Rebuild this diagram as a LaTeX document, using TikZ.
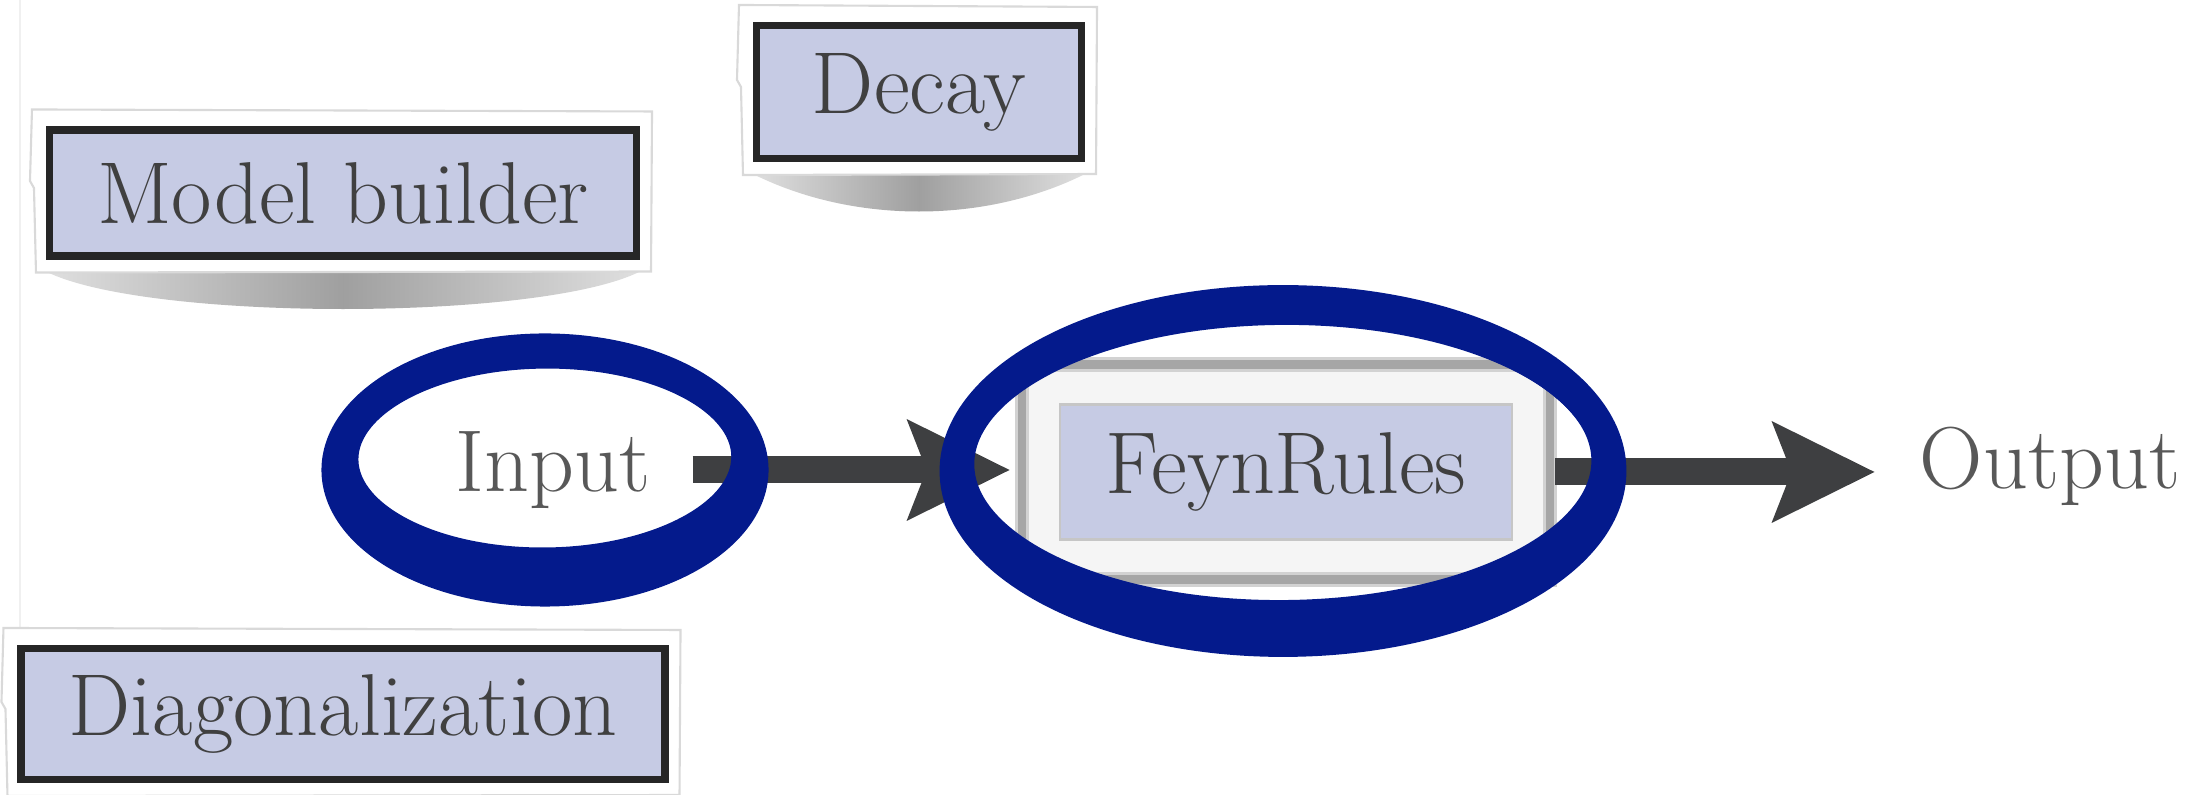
\documentclass[tikz,border=0pt]{standalone}
\usepackage{xcolor}
\usepackage{tikz}
\usetikzlibrary{arrows.meta, positioning, calc, fit, backgrounds}

\definecolor{lavender}{RGB}{198,203,228}
\definecolor{inkblue}{RGB}{4,26,140}
\definecolor{arrowgray}{RGB}{62,63,65}
\definecolor{textgray}{RGB}{64,64,64}
\definecolor{plaingray}{RGB}{88,88,88}

\begin{document}
\begin{tikzpicture}[
    tag/.style={rectangle, draw=black!85, line width=2pt, fill=lavender, text=textgray, font=\fontsize{25}{30}\selectfont, inner sep=0pt},
    plain/.style={text=plaingray, font=\fontsize{25}{30}\selectfont},
    core/.style={rectangle, draw=gray!45, line width=0.6pt, fill=lavender, text=textgray, font=\fontsize{25}{30}\selectfont},
    frame/.style={rectangle, draw=gray!35, line width=0.8pt, double=gray!70, double distance=2.5pt, fill=gray!8, inner xsep=0.37cm, inner ysep=0.39cm},
    bigarrow/.style={draw=arrowgray, line width=0.27cm, -{Stealth[length=1.03cm, width=1.02cm, inset=0.2cm, line width=0pt]}},
    brush/.style={draw=inkblue, line width=6pt},
    paper/.style={fill=white, draw=gray!30, line width=0.6pt}
]
    \useasboundingbox (0,0) rectangle (22.08,-7.95);

    % Labels around the tool
    \node[tag, minimum width=5.87cm, minimum height=1.26cm] (mb) at (3.43,-1.93) {Model builder};
    \node[tag, minimum width=3.25cm, minimum height=1.33cm] (dec) at (9.19,-0.92) {Decay};
    \node[tag, minimum width=6.44cm, minimum height=1.31cm] (diag) at (3.43,-7.14) {Diagonalization};

    % Main chain
    \node[plain] (in) at (5.53,-4.70) {Input};
    \node[core, minimum width=4.52cm, minimum height=1.35cm] (fr) at (12.86,-4.72) {FeynRules};
    \node[plain] (out) at (20.50,-4.66) {Output};

    % Paper, shadows and frame
    \begin{pgfonlayer}{background}
        \draw[gray!12, line width=0.6pt] (0.2,0) -- (0.2,-7.95);
        \foreach \n in {mb,dec,diag} {
            \shade[left color=gray!25, right color=gray!25, middle color=gray!75]
                ($(\n.south west)+(0,-0.12)$) .. controls +(1,-0.5) and +(-1,-0.5) .. ($(\n.south east)+(0,-0.12)$) -- cycle;
            \filldraw[paper] ($(\n.north west)+(-0.14,0.17)$) -- ($(\n.north east)+(0.12,0.15)$)
                -- ($(\n.south east)+(0.11,-0.12)$) -- ($(\n.south west)+(-0.1,-0.13)$)
                -- ($(\n.west)+(-0.12,0.05)$) -- ($(\n.west)+(-0.16,0.12)$) -- cycle;
        }
        \node[frame, fit=(fr)] (frbox) {};
    \end{pgfonlayer}

    % Arrows
    \draw[bigarrow] ([xshift=0.3cm]in.east) -- ($(in.east -| frbox.west)+(-0.11,0)$);
    \draw[bigarrow] ([xshift=0.04cm]frbox.east) -- ($(frbox.east -| out.west)+(-0.33,0)$);

    % Brush circles
    \foreach \dx/\dy/\rx/\ry/\r in {0/0/2.13/1.26/0, 0/0.04/2.07/1.18/1, 0/0.08/2.01/1.09/-1, 0/0.12/1.97/1.00/0.5}
        \draw[brush, rotate=\r] ([shift={(\dx-0.08,\dy)}]in.center) ellipse [x radius=\rx, y radius=\ry];
    \foreach \dx/\dy/\rx/\ry/\r in {0/0/3.32/1.745/0, 0/0.03/3.28/1.66/0.8, 0/0.06/3.24/1.57/-0.8, 0/0.085/3.20/1.49/0.4}
        \draw[brush, line width=6.5pt, rotate=\r] ([shift={(\dx-0.03,\dy+0.01)}]fr.center) ellipse [x radius=\rx, y radius=\ry];
\end{tikzpicture}
\end{document}
